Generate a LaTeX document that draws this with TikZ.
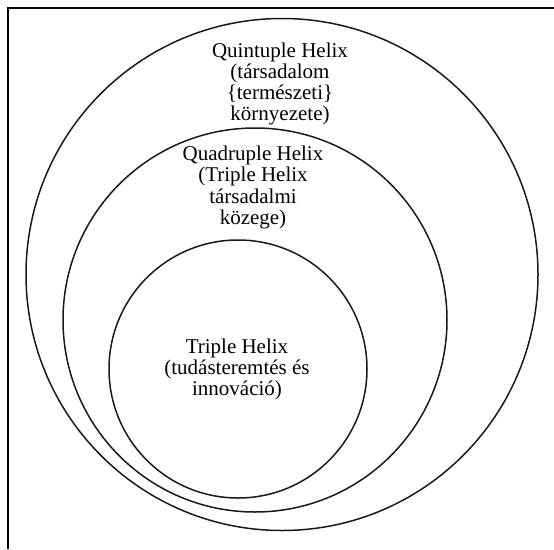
\documentclass[tikz,border=0pt]{standalone}
\usepackage{fontspec}
\setmainfont{Liberation Serif}
\begin{document}
\begin{tikzpicture}[x=1pt,y=-1pt,
  ring/.style={circle,draw=black!90,line width=1.5pt,inner sep=0pt,outer sep=0pt},
  helixtext/.style={align=center,inner sep=0pt,font=\rmfamily\fontsize{21}{21.3}\selectfont},
  framerule/.style={draw=black,line width=1.4pt}]
  \useasboundingbox (0,0) rectangle (554,549);
  % frame on the top and left sides
  \draw[framerule] (8,549) -- (8,8) -- (554,8);
  % nested helix circles
  \node[ring,minimum size=512pt] (quint) at (282,274.5) {};
  \node[ring,minimum size=384pt] (quad) at (255,320) {};
  \node[ring,minimum size=258pt] (triple) at (238,369) {};
  % captions
  \node[helixtext] (quinttext) at (280,84) {Quintuple Helix\\(társadalom\\\{természeti\}\\környezete)};
  \node[helixtext] (quadtext) at (253,187.5) {Quadruple Helix\\(Triple Helix\\társadalmi\\közege)};
  \node[helixtext] (tripletext) at (237,369.5) {Triple Helix\\(tudásteremtés és\\innováció)};
\end{tikzpicture}
\end{document}
